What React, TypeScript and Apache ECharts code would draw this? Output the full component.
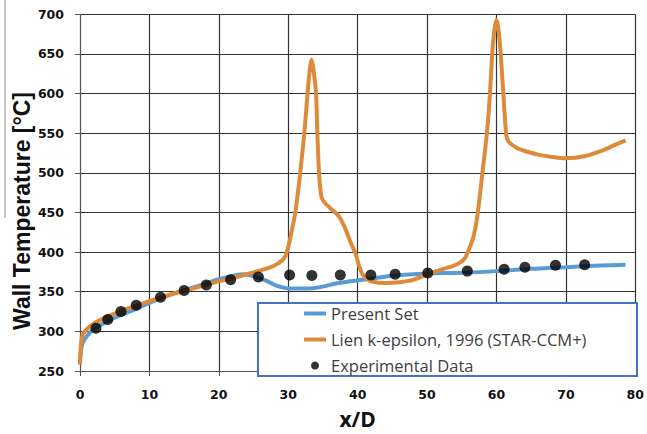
import React, { useEffect, useRef } from 'react';
import * as echarts from 'echarts';

const seriesNames = ['Present Set', 'Lien k-epsilon, 1996 (STAR-CCM+)', 'Experimental Data'];

const presentSet: [number, number][] = [
  [0, 262], [0.3, 283], [1, 294], [2, 303], [4, 313], [6, 321], [8, 328], [10, 336],
  [12, 343], [15, 352], [18, 360], [20, 366], [22, 370], [23.5, 372], [25, 369.5],
  [26.8, 364], [28.2, 358], [30.2, 354], [33, 354], [34.4, 355.5], [37.3, 361],
  [41.6, 366], [45.4, 370.5], [50, 373], [55, 374], [60, 376], [65, 379], [70, 381],
  [75, 383], [78.6, 384],
];

const lien: [number, number][] = [
  [0, 258], [0.15, 285], [0.4, 296], [1, 303], [2, 310], [4, 319], [6, 326], [8, 332],
  [10, 338], [12, 344], [15, 351], [18, 358], [20, 363], [22, 367], [24, 372], [26, 377],
  [27.5, 381], [28.6, 386], [29.4, 392], [29.9, 403], [30.3, 418], [31.0, 449], [31.7, 498],
  [32.3, 548], [32.8, 602], [33.1, 630], [33.35, 643], [33.6, 632], [34.0, 602], [34.2, 548],
  [34.45, 498], [34.8, 469], [35.4, 461], [36.5, 452], [37.3, 445], [38.2, 430], [39.0, 412],
  [39.7, 398], [40.2, 383], [40.7, 372], [41.3, 366], [42, 363], [44, 361], [46, 362],
  [48, 365], [50, 372], [52, 378], [53.6, 382], [54.8, 387], [55.5, 393], [56.1, 405],
  [56.7, 420], [57.3, 449], [57.95, 498], [58.6, 548], [59.05, 598], [59.4, 652], [59.7, 680],
  [60.0, 693], [60.3, 680], [60.6, 651], [61.0, 598], [61.4, 548], [61.7, 540], [62.15, 536],
  [63, 531], [64.1, 527.5], [66, 523], [68, 520], [70, 518.5], [72.7, 521], [75.5, 529],
  [77, 535], [78.6, 541],
];

const experimental: [number, number][] = [
  [2.3, 304], [4.0, 315], [5.9, 325], [8.1, 333], [11.6, 343], [15.0, 351.5], [18.2, 358.5],
  [21.7, 365], [25.7, 368.5], [30.2, 371], [33.4, 370.5], [37.5, 371], [41.9, 371],
  [45.4, 372], [50.1, 373.5], [55.8, 376], [61.1, 378.5], [64.1, 381], [68.5, 383.5],
  [72.7, 384],
];

const xMin = 0, xMax = 80, xStep = 10;
const yMin = 250, yMax = 700, yStep = 50;

export default function App() {
  const ref = useRef<HTMLDivElement>(null);
  useEffect(() => {
    if (!ref.current) return;
    const chart = echarts.init(ref.current, undefined, { renderer: 'svg' });
    const gridColor = '#333333';
    const tickFont = { fontFamily: 'DejaVu Sans', fontWeight: 'bold' as const, fontSize: 12.5, color: '#111111' };
    chart.setOption({
      animation: false,
      backgroundColor: '#ffffff',
      grid: { left: 80, right: 9, top: 14.3, bottom: 57.3, containLabel: false },
      xAxis: {
        type: 'value', min: xMin, max: xMax, interval: xStep,
        name: 'x/D', nameLocation: 'middle', nameGap: 37,
        nameTextStyle: { fontFamily: 'Open Sans', fontWeight: 'bold', fontSize: 21, color: '#111' },
        axisLine: { lineStyle: { color: '#555', width: 1 } },
        axisTick: { show: true, length: 5, lineStyle: { color: '#555' } },
        axisLabel: { ...tickFont, margin: 17 },
        splitLine: { show: true, lineStyle: { color: gridColor, width: 1.2 } },
      },
      yAxis: {
        type: 'value', min: yMin, max: yMax, interval: yStep,
        axisLine: { show: true, lineStyle: { color: '#555', width: 1 } },
        axisTick: { show: true, length: 5, lineStyle: { color: '#555' } },
        axisLabel: { ...tickFont, margin: 16 },
        splitLine: { show: true, lineStyle: { color: gridColor, width: 1.2 } },
      },
      legend: {
        orient: 'vertical', left: 302, top: 305, z: 10,
        itemWidth: 22, itemHeight: 8, itemGap: 9, padding: 0,
        lineStyle: { width: 4 },
        data: [
          { name: seriesNames[0], itemStyle: { opacity: 0 } },
          { name: seriesNames[1], itemStyle: { opacity: 0 } },
          { name: seriesNames[2] },
        ],
        textStyle: { fontFamily: 'Open Sans', fontSize: 16.5, color: '#404040' },
      },
      graphic: [
        {
          type: 'rect', z: 5,
          shape: { x: 258, y: 303, width: 379, height: 73 },
          style: { fill: '#ffffff', stroke: '#4472C4', lineWidth: 2 },
        },
        {
          type: 'line', z: 5,
          shape: { x1: 5, y1: 0, x2: 5, y2: 218 },
          style: { stroke: '#8a8a8a', lineWidth: 1 },
        },
        {
          type: 'text', z: 5, x: 22, y: 211, rotation: Math.PI / 2,
          style: {
            text: 'Wall Temperature [°C]', fontFamily: 'Liberation Sans', fontWeight: 'bold',
            fontSize: 23, fill: '#111', align: 'center', verticalAlign: 'middle',
          },
        },
      ],
      series: [
        {
          name: seriesNames[0], type: 'line', data: presentSet, symbol: 'none', smooth: 0.3,
          lineStyle: { color: '#5B9BD5', width: 4 }, itemStyle: { color: '#5B9BD5' }, z: 2,
        },
        {
          name: seriesNames[1], type: 'line', data: lien, symbol: 'none', smooth: 0.2,
          lineStyle: { color: '#DD8B3B', width: 4 }, itemStyle: { color: '#DD8B3B' }, z: 3,
        },
        {
          name: seriesNames[2], type: 'scatter', data: experimental, symbol: 'circle', symbolSize: 11,
          itemStyle: { color: '#000000' }, z: 4,
        },
      ],
    });
    return () => chart.dispose();
  }, []);
  return <div ref={ref} style={{ width: 647, height: 434, position: 'fixed', left: 0, top: 0 }} />;
}
